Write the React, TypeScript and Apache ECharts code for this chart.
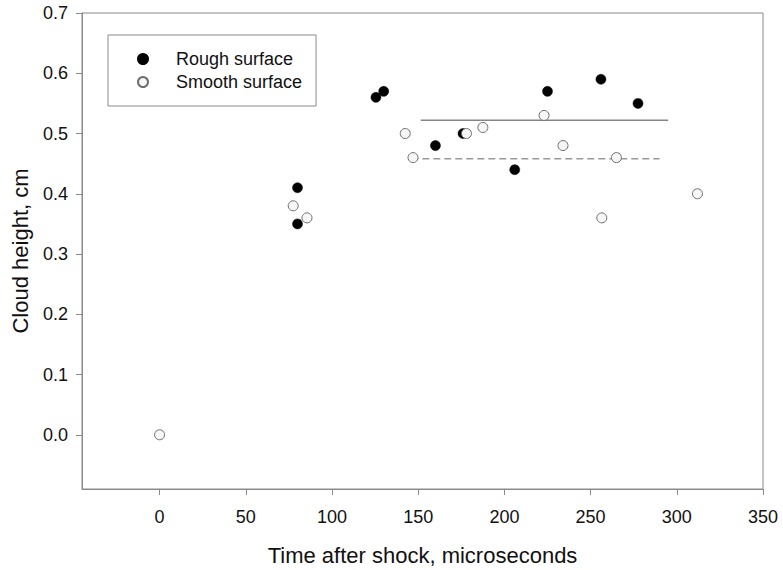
import React, { useEffect, useRef } from "react";
import * as echarts from "echarts";

const roughX = [80, 80, 125.5, 130, 160, 176, 206, 225, 256, 277.5];
const roughY = [0.41, 0.35, 0.56, 0.57, 0.48, 0.5, 0.44, 0.57, 0.59, 0.55];
const smoothX = [0, 77.5, 85.5, 142.5, 147, 178, 187.5, 223, 234, 256.5, 265, 312];
const smoothY = [0, 0.38, 0.36, 0.5, 0.46, 0.5, 0.51, 0.53, 0.48, 0.36, 0.46, 0.4];
const roughMeanX = [151.5, 295];
const roughMeanY = [0.522, 0.522];
const smoothMeanX = [146, 290];
const smoothMeanY = [0.458, 0.458];
const xTicks = [0, 50, 100, 150, 200, 250, 300, 350];
const yTicks = [0, 0.1, 0.2, 0.3, 0.4, 0.5, 0.6, 0.7];

const FONT = "'Liberation Sans', Arial, sans-serif";

export default function App() {
  const ref = useRef<HTMLDivElement>(null);
  useEffect(() => {
    if (!ref.current) return;
    const chart = echarts.init(ref.current, undefined, { renderer: "svg" });
    const zip = (xs: number[], ys: number[]) => xs.map((x, i) => [x, ys[i]]);
    chart.setOption({
      animation: false,
      backgroundColor: "#fff",
      textStyle: { fontFamily: FONT, color: "#111" },
      grid: {
        left: 82,
        right: 20,
        top: 13,
        bottom: 81,
        containLabel: false,
        outerBoundsMode: "none",
        show: true,
        borderColor: "#8a8a8a",
        borderWidth: 1,
      },
      legend: {
        orient: "vertical",
        left: 108,
        top: 35,
        data: ["Rough surface", "Smooth surface"],
        borderColor: "#8a8a8a",
        borderWidth: 1,
        padding: [15, 14, 15, 29],
        itemWidth: 10,
        itemHeight: 10,
        itemGap: 5,
        textStyle: { fontSize: 18, fontFamily: FONT, color: "#111", padding: [0, 0, 0, 23] },
      },
      xAxis: {
        type: "value",
        min: -45,
        max: 350,
        name: "Time after shock, microseconds",
        nameLocation: "middle",
        nameGap: 55,
        nameTextStyle: { fontSize: 22, fontFamily: FONT, color: "#111" },
        splitLine: { show: false },
        axisLine: { show: true, onZero: false, lineStyle: { color: "#8a8a8a" } },
        axisTick: { show: true, length: 6, customValues: xTicks, lineStyle: { color: "#8a8a8a" } },
        axisLabel: {
          customValues: xTicks,
          fontSize: 18,
          fontFamily: FONT,
          color: "#111",
          margin: 19,
        },
      },
      yAxis: {
        type: "value",
        min: -0.09,
        max: 0.7,
        name: "Cloud height, cm",
        nameLocation: "middle",
        nameGap: 51,
        nameTextStyle: { fontSize: 22, fontFamily: FONT, color: "#111" },
        splitLine: { show: false },
        axisLine: { show: true, onZero: false, lineStyle: { color: "#8a8a8a" } },
        axisTick: { show: true, length: 6, customValues: yTicks, lineStyle: { color: "#8a8a8a" } },
        axisLabel: {
          customValues: yTicks,
          fontSize: 18,
          fontFamily: FONT,
          color: "#111",
          margin: 14,
          formatter: (v: number) => v.toFixed(1),
        },
      },
      series: [
        {
          name: "roughMean",
          type: "line",
          data: zip(roughMeanX, roughMeanY),
          symbol: "none",
          lineStyle: { color: "#858585", width: 1.5 },
          z: 1,
        },
        {
          name: "smoothMean",
          type: "line",
          data: zip(smoothMeanX, smoothMeanY),
          symbol: "none",
          lineStyle: { color: "#9a9a9a", width: 1.5, type: [7, 4] },
          z: 1,
        },
        {
          name: "Rough surface",
          type: "scatter",
          data: zip(roughX, roughY),
          symbol: "circle",
          symbolSize: 10,
          itemStyle: { color: "#000", borderColor: "#000", borderWidth: 0.5, opacity: 1 },
          z: 2,
        },
        {
          name: "Smooth surface",
          type: "scatter",
          data: zip(smoothX, smoothY),
          symbol: "circle",
          symbolSize: 10,
          itemStyle: { color: "#f6f6f6", borderColor: "#6e6e6e", borderWidth: 1, opacity: 1 },
          z: 3,
        },
      ],
    });
    return () => chart.dispose();
  }, []);
  return <div ref={ref} style={{ width: 783, height: 570, position: "absolute", left: 0, top: 0 }} />;
}
